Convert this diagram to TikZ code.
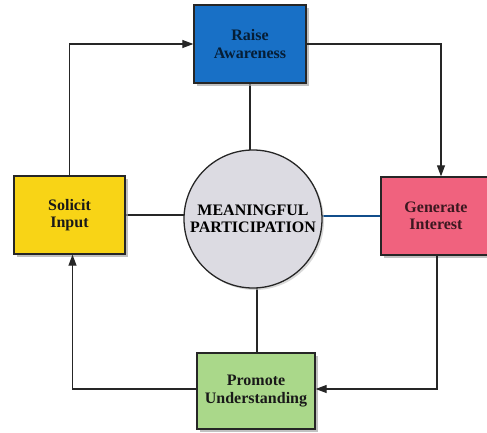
\documentclass[tikz,border=0pt]{standalone}
\usepackage{fontspec}
\setmainfont{Liberation Serif}
\usetikzlibrary{arrows.meta,shadows,backgrounds}

\definecolor{awareblue}{RGB}{24,112,198}
\definecolor{solicityellow}{RGB}{248,212,22}
\definecolor{interestpink}{RGB}{240,98,126}
\definecolor{promotegreen}{RGB}{170,216,138}
\definecolor{circlegray}{RGB}{220,219,226}

\tikzset{
  stagebox/.style={draw=black!85, line width=1.3pt, align=center,
    font=\bfseries\fontsize{16}{17.5}\selectfont, inner sep=0pt,
    drop shadow={shadow xshift=3pt, shadow yshift=-3pt, fill=black!35, opacity=.7}},
  flow/.style={line width=1.1pt, draw=black!85, -{Triangle[length=11pt,width=8pt]}},
  spoke/.style={line width=1.2pt, draw=black!85},
}

\begin{document}
\begin{tikzpicture}[x=1pt,y=-1pt]
            \useasboundingbox (0,0) rectangle (487,433);

            \node[stagebox, fill=awareblue, text=black!55!awareblue!60!black,
                  minimum width=112, minimum height=78] (raise) at (250,44) {Raise\\Awareness};
            \node[stagebox, fill=solicityellow, text=black!90,
                  minimum width=111, minimum height=78] (solicit) at (69.5,215) {Solicit\\Input};
            \node[stagebox, fill=interestpink, text=black!75!interestpink,
                  minimum width=110, minimum height=78] (generate) at (436,216) {Generate\\Interest};
            \node[stagebox, fill=promotegreen, text=black!90,
                  minimum width=118, minimum height=76] (promote) at (256,391) {Promote\\Understanding};

            \node[circle, draw=black!85, line width=1.3pt, fill=circlegray, minimum size=138,
                  font=\bfseries\fontsize{16}{17.5}\selectfont, align=center, inner sep=0pt,
                  drop shadow={shadow xshift=2pt, shadow yshift=-2pt, fill=black!25, opacity=.6}]
                  (mp) at (253,219) {MEANINGFUL\\PARTICIPATION};

            \begin{scope}[on background layer]
                \draw[spoke] (raise.south) -- (raise.south |- mp.center);
                \draw[spoke] (solicit.east) -- (solicit.east -| mp.center);
                \draw[spoke, draw=awareblue!70!black] (generate.west) -- (generate.west -| mp.center);
                \draw[spoke] ([xshift=1pt]promote.north) -- ([xshift=1pt]promote.north |- mp.center);
            \end{scope}

            \draw[flow] (solicit.north) |- (raise.west);
            \draw[flow] (raise.east) -| ([xshift=5pt]generate.north);
            \draw[flow] ([xshift=1pt]generate.south) |- ([yshift=2pt]promote.east);
            \draw[flow] ([yshift=2pt]promote.west) -| ([xshift=3pt]solicit.south);
        \end{tikzpicture}
\end{document}
